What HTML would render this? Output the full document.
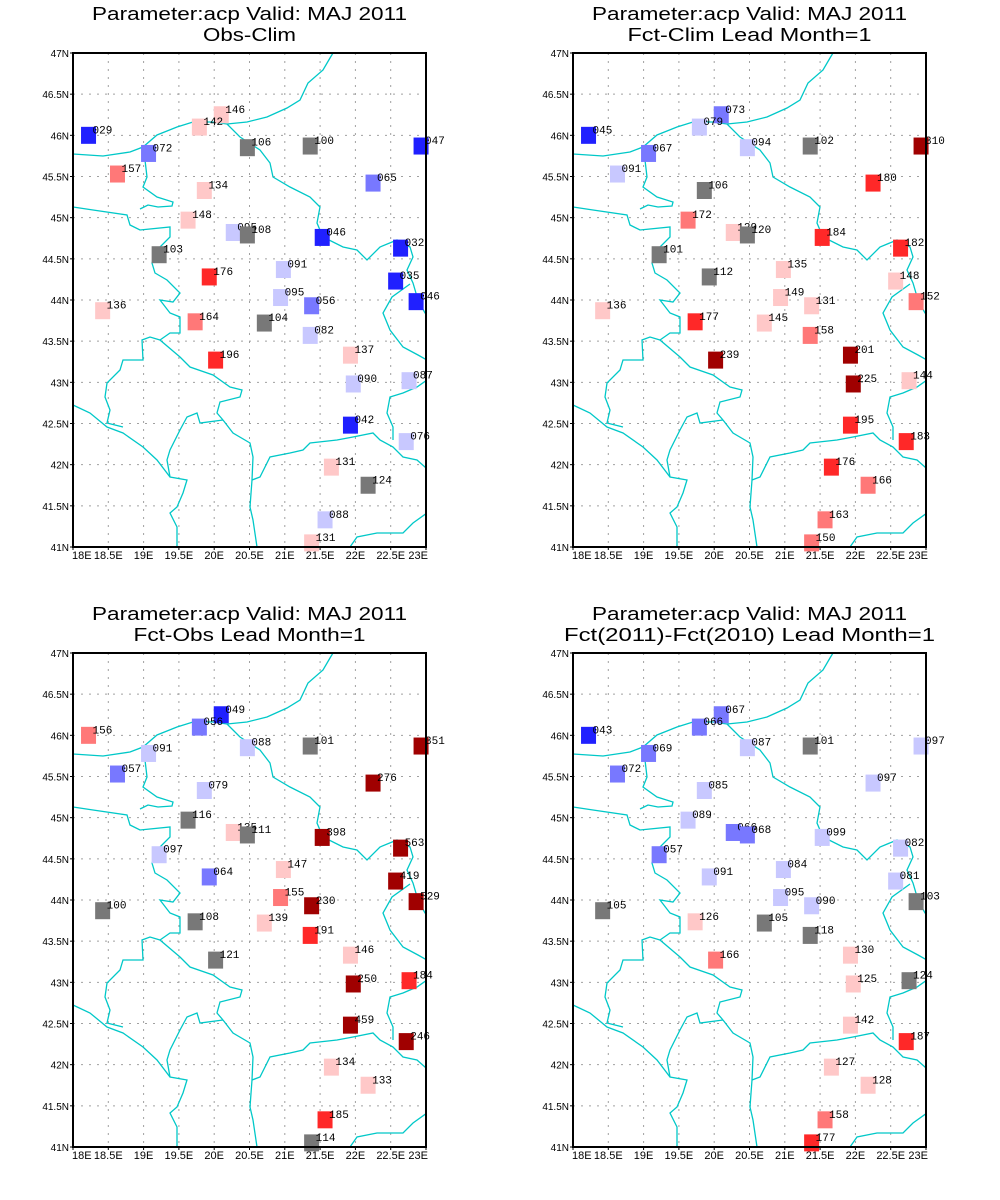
<!DOCTYPE html>
<html><head><meta charset="utf-8"><style>
html,body{margin:0;padding:0;background:#fff;}
svg{display:block;font-family:"Liberation Sans",sans-serif;}
</style></head><body>
<svg id="chart" width="1000" height="1200" viewBox="0 0 1000 1200" xmlns="http://www.w3.org/2000/svg"></svg>
<script>
// Station coordinates
const stationLon = [18.22,19.07,18.63,20.10,19.79,20.47,21.36,22.93,19.86,22.25,19.63,20.27,20.47,21.53,22.64,19.22,19.93,20.98,22.57,22.86,20.94,21.38,18.42,19.73,20.71,21.36,20.02,21.93,21.97,22.76,21.93,22.72,21.66,22.18,21.57,21.38];
const stationLat = [46.00,45.78,45.53,46.25,46.10,45.85,45.87,45.87,45.33,45.42,44.97,44.82,44.79,44.76,44.63,44.55,44.28,44.37,44.23,43.98,44.03,43.93,43.87,43.735,43.72,43.57,43.27,43.33,42.98,43.02,42.48,42.28,41.97,41.75,41.33,41.05];
// Values per panel (percent)
const obsClim = [29,72,157,146,142,106,100,47,134,65,148,95,108,46,32,103,176,91,35,46,95,56,136,164,104,82,196,137,90,87,42,76,131,124,88,131];
const fctClim = [45,67,91,73,79,94,102,310,106,180,172,129,120,184,182,101,112,135,148,152,149,131,136,177,145,158,239,201,225,144,195,183,176,166,163,150];
const fctObs = [156,91,57,49,56,88,101,351,79,276,116,135,111,398,563,97,64,147,419,529,155,230,100,108,139,191,121,146,250,184,459,246,134,133,185,114];
const fctFct = [43,69,72,67,66,87,101,97,85,97,89,66,68,99,82,57,91,84,81,103,95,90,105,126,105,118,166,130,125,124,142,187,127,128,158,177];
const subtitles = ["Obs-Clim","Fct-Clim Lead Month=1","Fct-Obs Lead Month=1","Fct(2011)-Fct(2010) Lead Month=1"];
const latTicks = ["47N","46.5N","46N","45.5N","45N","44.5N","44N","43.5N","43N","42.5N","42N","41.5N","41N"];
const lonTicks = ["18E","18.5E","19E","19.5E","20E","20.5E","21E","21.5E","22E","22.5E","23E"];

const NS="http://www.w3.org/2000/svg";
const svg=document.getElementById('chart');
function mk(tag,attrs,parent){const e=document.createElementNS(NS,tag);for(const k in attrs)e.setAttribute(k,attrs[k]);parent.appendChild(e);return e;}
function color(v){
  if(v<50)return '#2020ff';
  if(v<75)return '#7878ff';
  if(v<100)return '#c8c8ff';
  if(v<125)return '#787878';
  if(v<150)return '#ffc8c8';
  if(v<175)return '#ff7878';
  if(v<200)return '#ff2828';
  return '#a00000';
}
// border outlines (panel-1 page coordinates)
const borders=[
"73,154 103,156 130,152 143,147 157,135 177,127 193,122 213,122 227,124 247,122 267,117 287,108 300,100 308,83 323,70 330,58 333,53",
"143,147 145,160 147,177 143,187 157,197 173,202 172,206 158,207 148,205 140,209",
"73,207 93,210 127,215 130,225 140,230 170,227 170,237 157,250 152,263 155,273 167,280 180,293 173,302 160,300 170,313 180,317 180,333 170,333 160,340 180,357 190,367 213,375 230,387 242,390 240,397 220,402 217,413 223,420",
"160,340 150,337 142,340 143,360 123,360 120,370 107,383 105,397 110,410 107,423 123,427",
"73,405 90,413 107,427 123,433 143,447 157,460 170,477 187,480 183,493 177,507 170,513 177,527 177,547",
"223,420 200,423 197,413 187,417 180,430 170,450 167,460 170,477",
"223,420 233,433 250,443 253,457 252,480 250,507 253,520 257,547",
"252,480 260,477 270,457 290,453 303,450 310,443 337,440 353,437 373,433 380,440 393,447 403,457 417,460 425,467 427,470",
"227,124 240,137 260,150 270,163 273,177 290,187 310,197 320,207 317,223 323,237 343,247 357,250 367,260 380,247 397,240 410,247 413,257 407,270 413,283 418,300 425,313 427,315",
"410,284 392,297 383,313 390,330 403,347 418,355 427,360",
"427,380 417,387 403,393 390,397 387,413 393,427 393,440",
"350,547 357,537 377,533 403,533 413,523 427,513"
];
const panels=[obsClim,fctClim,fctObs,fctFct];
const names=['obs-clim','fct-clim','fct-obs','fct-fct'];
const defs=mk('defs',{},svg);
panels.forEach((vals,pi)=>{
  const ox=73+(pi%2)*500, oy=53+Math.floor(pi/2)*600, W=353, H=494;
  const xs=lon=>ox+(lon-18)/5*W;
  const ys=lat=>oy+(47-lat)/6*H;
  const cp=mk('clipPath',{id:'clip'+pi},defs);
  mk('rect',{x:ox,y:oy,width:W,height:H},cp);
  const g=mk('g',{},svg);
  
  
  const cx=ox+W/2;
  const t1=mk('text',{x:cx,y:oy-33,'font-size':18,'text-anchor':'middle',textLength:315,lengthAdjust:'spacingAndGlyphs'},g);
  t1.textContent='Parameter:acp Valid: MAJ 2011';
  
  
  const st=subtitles[pi];
  const t2=mk('text',{x:cx,y:oy-12,'font-size':18,'text-anchor':'middle',textLength:Math.round(st.length*11.6),lengthAdjust:'spacingAndGlyphs'},g);
  t2.textContent=st;
  
  
  // grid
  for(let i=1;i<10;i++){const x=xs(18+i*0.5);const l=mk('line',{x1:x,y1:oy,x2:x,y2:oy+H,stroke:'#a0a0a0','stroke-dasharray':'2,6','stroke-width':1},g);
    }
  for(let i=1;i<12;i++){const y=ys(47-i*0.5);const l=mk('line',{x1:ox,y1:y,x2:ox+W,y2:y,stroke:'#a0a0a0','stroke-dasharray':'2,6','stroke-width':1},g);
    }
  // borders
  const bg=mk('g',{transform:`translate(${ox-73},${oy-53})`,'clip-path':''},g);
  const bw=mk('g',{'clip-path':`url(#clip${pi})`},g);
  bw.appendChild(bg);
  
  
  borders.forEach(p=>{const pl=mk('polyline',{points:p,fill:'none',stroke:'#00c8c8','stroke-width':1.3},bg);
    });
  // stations
  vals.forEach((v,i)=>{
    const x=xs(stationLon[i]), y=ys(stationLat[i]);
    const r=mk('rect',{x:x-7.5,y:y-8.5,width:15,height:17,fill:color(v)},g);
    
    
    const t=mk('text',{x:x+4,y:y-2,'font-size':11,'font-family':'Liberation Mono, monospace',fill:'#000'},g);
    t.textContent=String(v).padStart(3,'0');
    
    
  });
  // frame
  const fr=mk('rect',{x:ox,y:oy,width:W,height:H,fill:'none',stroke:'#000','stroke-width':2},g);
  
  
  latTicks.forEach((lab,i)=>{
    const y=ys(47-i*0.5);
    mk('line',{x1:ox-3,y1:y,x2:ox,y2:y,stroke:'#000'},g);
    const t=mk('text',{x:ox-4,y:y+4,'font-size':10,'text-anchor':'end'},g);
    t.textContent=lab;
    
    
  });
  lonTicks.forEach((lab,i)=>{
    const x=xs(18+i*0.5);
    mk('line',{x1:x,y1:oy+H,x2:x,y2:oy+H+3,stroke:'#000'},g);
    const anchor=i===0?'start':(i===10?'end':'middle');
    const t=mk('text',{x:i===0?x-1:(i===10?x+2:x),y:oy+H+12,'font-size':11,'text-anchor':anchor},g);
    t.textContent=lab;
    
    
  });
});
</script>
</body></html>
